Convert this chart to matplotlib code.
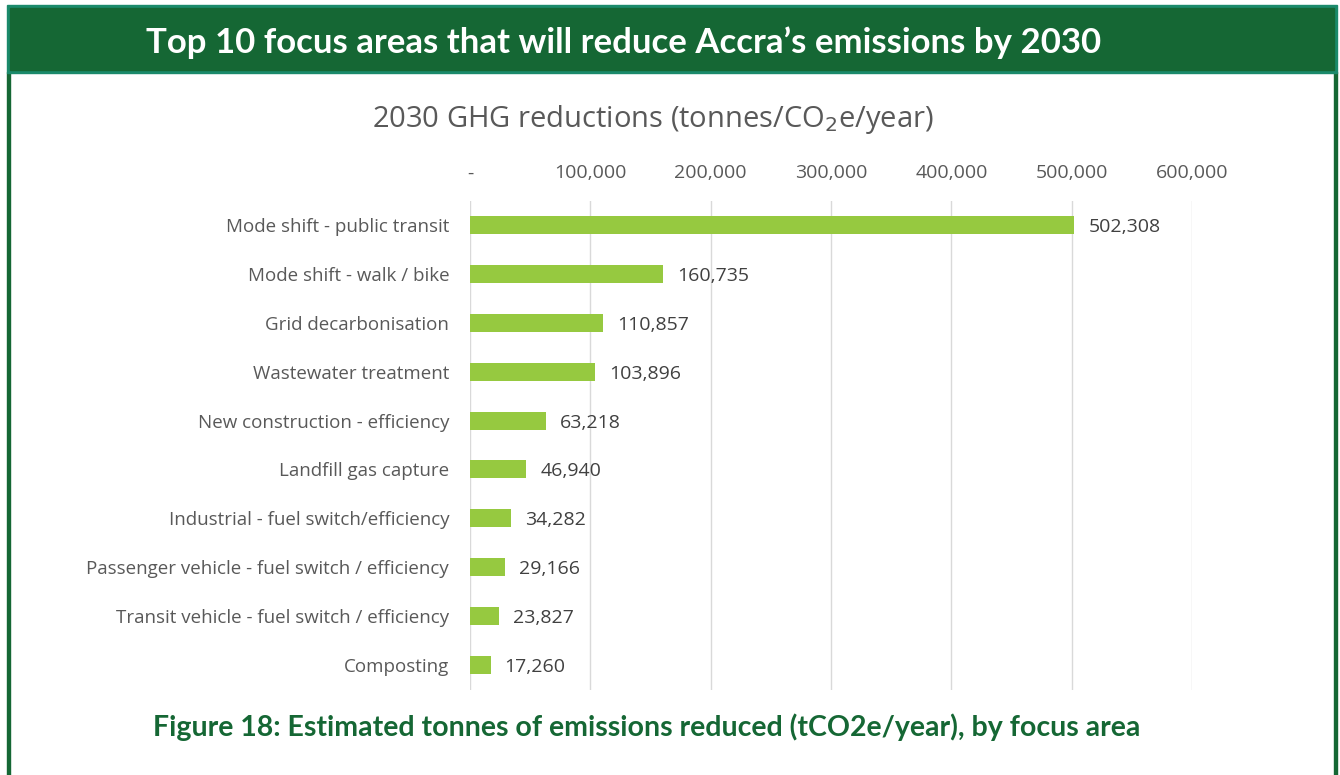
import matplotlib.pyplot as plt
from matplotlib.patches import Rectangle
from matplotlib.ticker import FuncFormatter

categories = [
    'Mode shift - public transit',
    'Mode shift - walk / bike',
    'Grid decarbonisation',
    'Wastewater treatment',
    'New construction - efficiency',
    'Landfill gas capture',
    'Industrial - fuel switch/efficiency',
    'Passenger vehicle - fuel switch / efficiency',
    'Transit vehicle - fuel switch / efficiency',
    'Composting',
]
reductions = [502308, 160735, 110857, 103896, 63218, 46940, 34282, 29166, 23827, 17260]
x_ticks = [0, 100000, 200000, 300000, 400000, 500000, 600000]

dark_green = '#156734'
teal = '#1b8a6b'
bar_green = '#96c940'
text_grey = '#595959'

plt.rcParams['font.family'] = ['Open Sans', 'DejaVu Sans']

fig = plt.figure(figsize=(13.4, 7.75), dpi=100)
W, H = 1340, 775

# frame and header band (pixel coords converted to figure fraction)
def px(x, y, w, h):
    return (x / W, 1 - (y + h) / H, w / W, h / H)

x0, y0, w0, h0 = px(7, 72, 2.5, 703)
fig.patches.append(Rectangle((x0, y0), w0, h0, transform=fig.transFigure, color=dark_green, zorder=0))
x0, y0, w0, h0 = px(1334, 72, 2.5, 703)
fig.patches.append(Rectangle((x0, y0), w0, h0, transform=fig.transFigure, color=dark_green, zorder=0))
x0, y0, w0, h0 = px(7, 5, 1330, 68)
fig.patches.append(Rectangle((x0, y0), w0, h0, transform=fig.transFigure, color=teal, zorder=0))
x0, y0, w0, h0 = px(10, 8, 1324, 62)
fig.patches.append(Rectangle((x0, y0), w0, h0, transform=fig.transFigure, color=dark_green, zorder=0))

fig.text(624 / W, 1 - 43 / H, 'Top 10 focus areas that will reduce Accra\u2019s emissions by 2030',
         color='white', fontsize=25, fontweight='bold', ha='center', va='center',
         family=['Lato', 'DejaVu Sans'])
fig.text(647 / W, 1 - 727 / H, 'Figure 18: Estimated tonnes of emissions reduced (tCO2e/year), by focus area',
         color=dark_green, fontsize=20.5, fontweight='bold', ha='center', va='center',
         family=['Lato', 'DejaVu Sans'])
fig.text(653 / W, 1 - 120 / H, '2030 GHG reductions (tonnes/CO$_2$e/year)',
         color=text_grey, fontsize=21, ha='center', va='center')

ax = fig.add_axes([470 / W, 1 - 689.5 / H, (1192 - 470) / W, 489 / H])
y = list(range(len(categories)))
ax.barh(y, reductions, height=0.37, color=bar_green, zorder=3)
for yi, v in zip(y, reductions):
    ax.text(v + 11500, yi + 0.04, f'{v:,}', va='center', ha='left', fontsize=14, color='#404040')

ax.set_ylim(len(categories) - 0.5, -0.5)
ax.set_yticks(y)
ax.set_yticklabels(categories, fontsize=13.5, color=text_grey)
ax.set_xlim(0, 600000)
ax.set_xticks(x_ticks)
ax.xaxis.set_major_formatter(FuncFormatter(lambda v, p: '-' if v == 0 else f'{int(v):,}'))
ax.xaxis.tick_top()
ax.tick_params(axis='x', labelsize=14, labelcolor=text_grey, length=0, pad=13)
ax.tick_params(axis='y', length=0, pad=15)
ax.grid(axis='x', color='#d9d9d9', linewidth=1, zorder=0)
for s in ax.spines.values():
    s.set_visible(False)

plt.savefig('out.png', dpi=100)
